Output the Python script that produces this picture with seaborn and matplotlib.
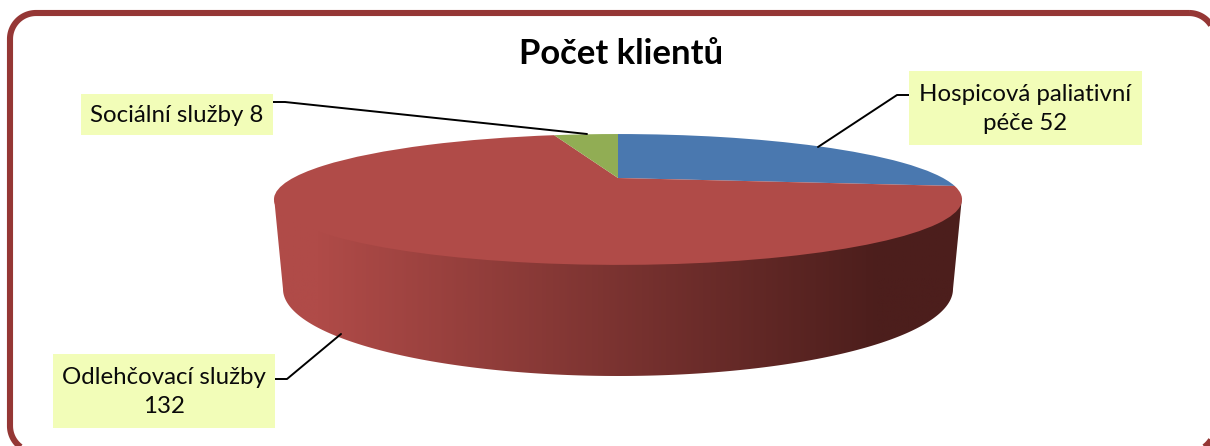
import numpy as np
import matplotlib
matplotlib.use('Agg')
import matplotlib.pyplot as plt
from matplotlib.patches import Polygon, Rectangle
from matplotlib.transforms import Transform
import seaborn as sns

# data
categories = ['Hospicová paliativní péče', 'Odlehčovací služby', 'Sociální služby']
clients = [52, 132, 8]
slice_colors = ['#4A78AF', '#B04B48', '#91AD54']
label_lines = ['Hospicová paliativní\npéče 52', 'Odlehčovací služby\n132', 'Sociální služby 8']
title = 'Počet klientů'

# label boxes (x0, y0, x1, y1) and leader lines in pixels
label_boxes = [(909, 71, 1142, 145), (53, 354, 275, 428), (81, 94, 273, 135)]
leaders = [
    [(909, 95), (897, 95), (818, 147)],
    [(275, 379), (287, 379), (341, 334)],
    [(273, 102), (285, 102), (587, 134)],
]

# perspective of the pie top: back rim y=134, front rim y=265, centre y=178
CX, CY, A, K = 618, 178, 325, 0.328


class PieTilt(Transform):
    input_dims = output_dims = 2

    def transform_non_affine(self, values):
        values = np.asarray(values)
        den = 1 + K * values[:, 1]
        return np.column_stack([CX + A * values[:, 0] / den, CY / den])


def rounded_frame(x0, y0, x1, y1, r):
    # polyline, because agg clips curved paths badly when they leave the canvas
    a = np.linspace(0, np.pi / 2, 30)
    dx, dy = r * np.cos(a), r * np.sin(a)
    return np.vstack([
        np.column_stack([x1 - r + dx[::-1], y0 + r - dy[::-1]]),
        np.column_stack([x1 - r + dx, y1 - r + dy]),
        np.column_stack([x0 + r - dx[::-1], y1 - r + dy[::-1]]),
        np.column_stack([x0 + r - dx, y0 + r - dy]),
    ])


sns.set_theme(style='white')
plt.rcParams['font.family'] = ['Lato', 'DejaVu Sans']

fig = plt.figure(figsize=(12.1, 4.46), dpi=100)
ax = fig.add_axes([0, 0, 1, 1])

wedges, _ = ax.pie(clients, colors=slice_colors, startangle=90, counterclock=False,
                   wedgeprops={'linewidth': 0, 'zorder': 3})
tilt = PieTilt()
for w in wedges:
    w.set_transform(tilt + ax.transData)

# side wall of the pie: gradient clipped to the band between top and bottom rim
widest = np.arcsin(K)
t = np.linspace(widest, np.pi - widest, 200)
top_rim = tilt.transform_non_affine(np.column_stack([np.cos(t), -np.sin(t)]))
top_rim[:, 1] -= 3  # tuck under the top so no seam shows
t2 = np.linspace(0, np.pi, 200)
bottom_rim = np.column_stack([618 + 335 * np.cos(t2), 289 + 87 * np.sin(t2)])
wall = Polygon(np.vstack([top_rim, bottom_rim[::-1]]), closed=True, transform=ax.transData,
               facecolor='none', edgecolor='none')
ax.add_patch(wall)
wall_cmap = sns.blend_palette(['#B04B48', '#4C1E1C'], as_cmap=True)
xs = np.linspace(270, 965, 400)
shade = np.clip((xs - 315) / 565, 0, 1)
img = ax.imshow(shade[None, :], extent=(270, 965, 380, 180), cmap=wall_cmap, vmin=0, vmax=1,
                aspect='auto', zorder=2)
img.set_clip_path(wall)

# frame
frame = rounded_frame(10, 13, 1215, 452, 26)
ax.add_patch(Polygon(frame, closed=True, facecolor='none', edgecolor='#953735', linewidth=4.4, zorder=1))

for box, line, pts in zip(label_boxes, label_lines, leaders):
    x0, y0, x1, y1 = box
    ax.add_patch(Rectangle((x0, y0), x1 - x0, y1 - y0, facecolor='#F2FDB8', edgecolor='none', zorder=5))
    ax.text((x0 + x1) / 2, (y0 + y1) / 2 + 1, line, ha='center', va='center', ma='center',
            fontsize=17.3, color='#0A0A0A', linespacing=1.47, zorder=6)
    ax.plot(*zip(*pts), color='black', lw=1.4, zorder=4, solid_joinstyle='round')

ax.text(621, 54, title, ha='center', va='center', fontsize=24.9, fontweight='bold', color='black')

ax.set_aspect('auto')
ax.set_xlim(0, 1210)
ax.set_ylim(446, 0)
ax.axis('off')

fig.savefig('out.png', dpi=100, facecolor='white')
